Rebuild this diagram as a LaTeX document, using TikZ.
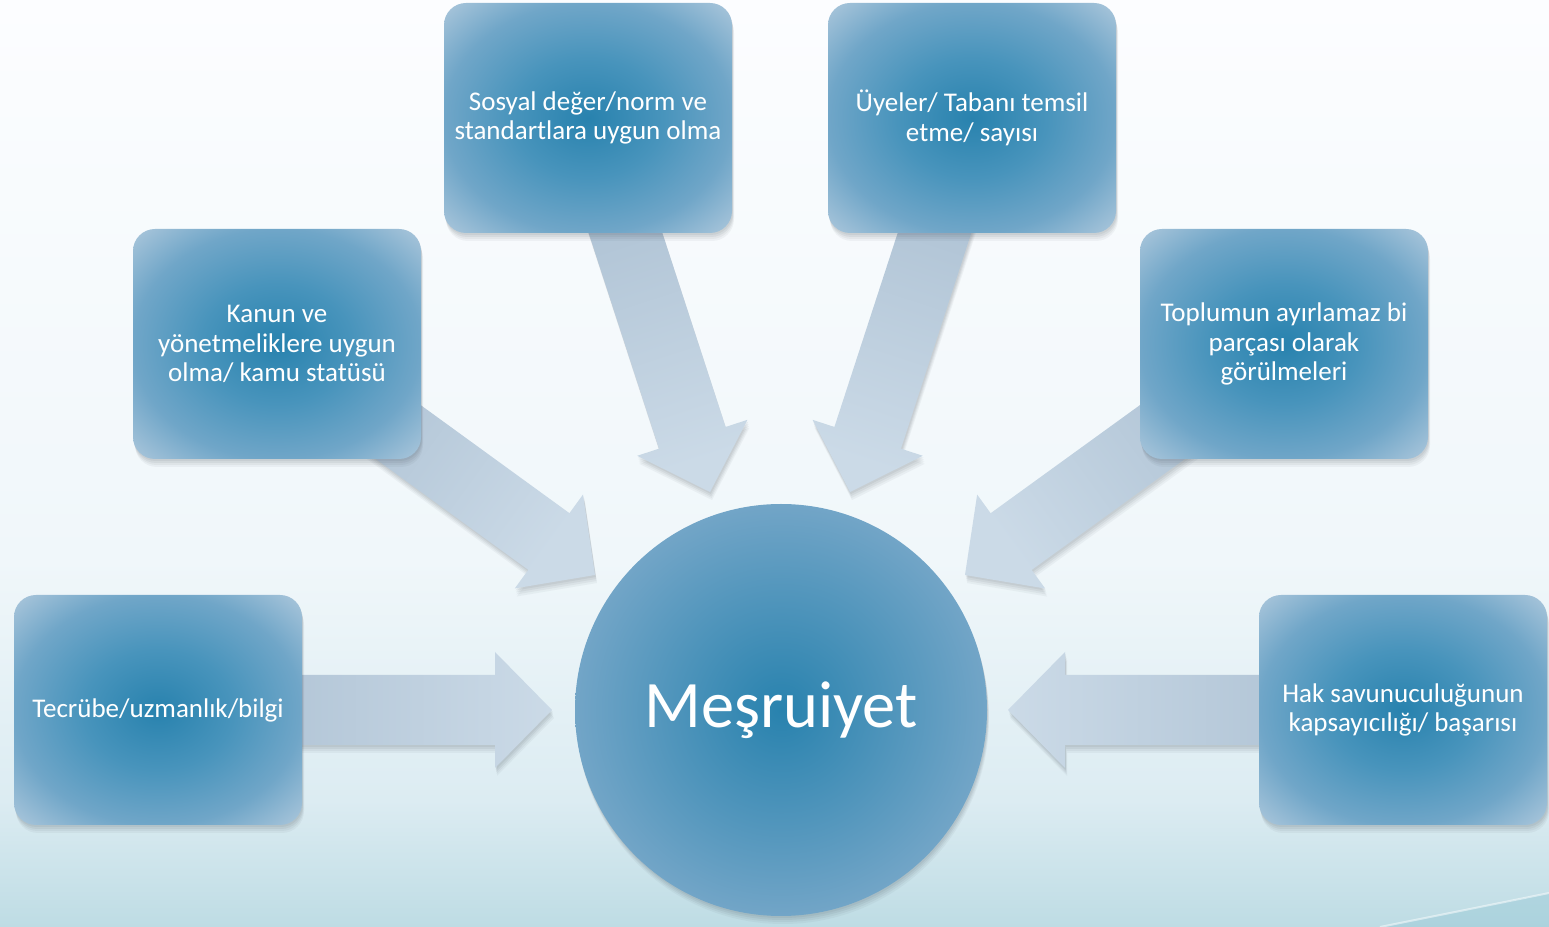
\documentclass[tikz,border=0pt]{standalone}
\usepackage{fontspec}
\setmainfont{Carlito}
\usetikzlibrary{calc}

\definecolor{boxcenter}{RGB}{40,130,174}
\definecolor{boxmid}{RGB}{72,148,188}
\definecolor{boxedge}{RGB}{112,166,200}
\definecolor{boxcorner}{RGB}{170,198,219}
\definecolor{hubedge}{RGB}{114,165,199}
\definecolor{arrowtail}{RGB}{168,189,208}
\definecolor{arrowtip}{RGB}{203,218,231}
\definecolor{bgtop}{RGB}{252,253,255}
\definecolor{bgmid}{RGB}{240,247,250}
\definecolor{bglow}{RGB}{220,236,242}
\definecolor{bgbot}{RGB}{190,220,228}
\definecolor{swoosh}{RGB}{150,200,214}
\definecolor{shadowgray}{RGB}{60,70,80}

\pgfdeclareradialshading{boxglow}{\pgfpoint{0bp}{0bp}}{color(0bp)=(boxcenter); color(13bp)=(boxmid); color(25bp)=(boxedge); color(35bp)=(boxcorner); color(50bp)=(boxcorner)}

\pgfdeclarelayer{backdrop}
\pgfdeclarelayer{arrows}
\pgfsetlayers{backdrop,arrows,main}

% wide block arrow from #1 to the tip #2, #3 = shading angle
\newcommand{\fatarrow}[3]{%
	\coordinate (fa-b) at ($(#2)!28.5pt!(#1)$);
	\path [arrowbody, shading angle=#3]
		($(#1)!17.5pt!90:(#2)$) -- ($(fa-b)!17.5pt!90:(#2)$) -- ($(fa-b)!29pt!90:(#2)$) --
		(#2) -- ($(fa-b)!29pt!-90:(#2)$) -- ($(fa-b)!17.5pt!-90:(#2)$) --
		($(#1)!17.5pt!-90:(#2)$) -- cycle;
}

\begin{document}
\begin{tikzpicture}[x=0.5pt,y=0.5pt,
	softshadow/.style={
		preaction={fill=shadowgray, fill opacity=0.07, transform canvas={xshift=0.4pt, yshift=-1pt}},
		preaction={fill=shadowgray, fill opacity=0.07, transform canvas={xshift=0.6pt, yshift=-2pt}},
		preaction={fill=shadowgray, fill opacity=0.06, transform canvas={xshift=0.8pt, yshift=-3pt}},
		preaction={fill=shadowgray, fill opacity=0.05, transform canvas={xshift=1pt, yshift=-4pt}}},
	ideabox/.style={rectangle, rounded corners=11pt, minimum width=144pt, minimum height=115pt,
		inner sep=0pt, softshadow, shade, shading=boxglow, text=white, align=center,
		font=\fontsize{13.5}{14.7}\selectfont},
	hub/.style={circle, minimum size=206pt, inner sep=0pt, softshadow,
		inner color=boxcenter, outer color=hubedge,
		text=white, font=\fontsize{33.2}{36}\selectfont},
	arrowbody/.style={softshadow, top color=arrowtip, bottom color=arrowtail}]
	\useasboundingbox (0,0) rectangle (1549,927);
	
	\begin{pgfonlayer}{backdrop}
		\fill [top color=bglow, bottom color=bgbot] (0,0) rectangle (1549,127);
		\fill [top color=bgmid, bottom color=bglow] (0,127) rectangle (1549,367);
		\fill [top color=bgtop, bottom color=bgmid] (0,367) rectangle (1549,927);
		% swoosh in the lower right corner
		\fill [swoosh, opacity=0.45] (1380,0) .. controls (1450,14) and (1500,24) .. (1549,34) -- (1549,0) -- cycle;
		\draw [white, opacity=0.5, line width=1pt] (1380,0) .. controls (1450,14) and (1500,24) .. (1549,34);
	\end{pgfonlayer}
	
	\node [hub] (mesru) at (781,217) {Meşruiyet};
	
	\node [ideabox] (tecrube) at (158,217) {Tecrübe/uzmanlık/bilgi};
	\node [ideabox] (kanun) at (277,583) {Kanun ve\\yönetmeliklere uygun\\olma/ kamu statüsü};
	\node [ideabox] (sosyal) at (588,809) {Sosyal değer/norm ve\\standartlara uygun olma};
	\node [ideabox] (uyeler) at (972,809) {Üyeler/ Tabanı temsil\\etme/ sayısı};
	\node [ideabox] (toplum) at (1284,583) {Toplumun ayırlamaz bi\\parçası olarak\\görülmeleri};
	\node [ideabox] (hak) at (1403,217) {Hak savunuculuğunun\\kapsayıcılığı/ başarısı};
	
	\coordinate (tip1) at (552,217);
	\coordinate (tip2) at (595,352);
	\coordinate (tip3) at (710,435);
	\coordinate (tip4) at (850,435);
	\coordinate (tip5) at (965,352);
	\coordinate (tip6) at (1008,217);
	
	\begin{pgfonlayer}{arrows}
		\fatarrow{tecrube.center}{tip1}{-90}
		\fatarrow{kanun.center}{tip2}{-126}
		\fatarrow{sosyal.center}{tip3}{-162}
		\fatarrow{uyeler.center}{tip4}{-198}
		\fatarrow{toplum.center}{tip5}{-234}
		\fatarrow{hak.center}{tip6}{90}
	\end{pgfonlayer}
\end{tikzpicture}
\end{document}
